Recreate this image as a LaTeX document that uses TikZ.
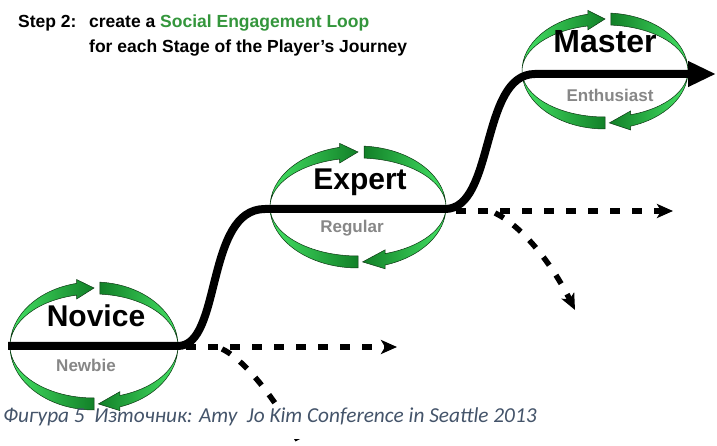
\documentclass[tikz,border=0pt]{standalone}
\usepackage{fontspec}
\setmainfont{Liberation Sans}
\newfontfamily\capfont{Carlito}
\usetikzlibrary{arrows.meta}

\definecolor{gdark}{RGB}{18,128,40}
\definecolor{glight}{RGB}{68,226,100}
\definecolor{gedge}{RGB}{12,55,18}
\definecolor{titlegreen}{RGB}{52,150,60}
\definecolor{subgray}{RGB}{135,135,135}
\definecolor{capblue}{RGB}{68,84,106}

\tikzset{
  band/.style={draw=gedge, line width=0.5pt},
  journey/.style={line width=8pt, black, line cap=butt,
    -{Triangle[length=28pt,width=24pt]}},
  branch/.style={line width=5.5pt, black, dash pattern=on 10pt off 12pt,
    -{Stealth[length=16pt,width=14pt,inset=4pt]}},
  stagename/.style={font=\fontsize{30}{30}\selectfont\bfseries, inner sep=0pt, anchor=base},
  stagesub/.style={font=\fontsize{17}{17}\selectfont\bfseries, text=subgray, inner sep=0pt, anchor=base},
  titletext/.style={font=\fontsize{17.5}{18}\selectfont\bfseries, inner sep=0pt, anchor=base west},
}

% a twisted ribbon loop: #1 centre, #2 x radius, #3 y radius
\newcommand{\engloop}[3]{%
  \begin{scope}[shift={#1}]
    \pgfmathsetmacro\lpin{#3-12}
    \pgfmathsetmacro\lpout{#3+4}
    \pgfmathsetmacro\lpfin{#3-16}
    \pgfmathsetmacro\lpmid{#3-6}
    % upper left, head at the top pointing right
    \path[band, left color=glight, right color=gdark]
      (180:#2pt and #3pt) arc[start angle=180, end angle=102, x radius=#2pt, y radius=#3pt]
      -- (102:#2pt and \lpout pt) -- (90:#2pt and \lpmid pt) -- (102:#2pt and \lpfin pt)
      -- (102:#2pt and \lpin pt) arc[start angle=102, end angle=180, x radius=#2pt, y radius=\lpin pt]
      -- cycle;
    % upper right
    \path[band, left color=gdark, right color=glight]
      (86:#2pt and #3pt) arc[start angle=86, end angle=0, x radius=#2pt, y radius=#3pt]
      arc[start angle=0, end angle=86, x radius=#2pt, y radius=\lpin pt] -- cycle;
    % lower right, head at the bottom pointing left
    \path[band, left color=gdark, right color=glight]
      (0:#2pt and #3pt) arc[start angle=0, end angle=-72, x radius=#2pt, y radius=#3pt]
      -- (-72:#2pt and \lpout pt) -- (-87:#2pt and \lpmid pt) -- (-72:#2pt and \lpfin pt)
      -- (-72:#2pt and \lpin pt) arc[start angle=-72, end angle=0, x radius=#2pt, y radius=\lpin pt]
      -- cycle;
    % lower left
    \path[band, left color=glight, right color=gdark]
      (180:#2pt and #3pt) arc[start angle=180, end angle=270, x radius=#2pt, y radius=#3pt]
      -- (270:#2pt and \lpin pt) arc[start angle=270, end angle=180, x radius=#2pt, y radius=\lpin pt]
      -- cycle;
  \end{scope}}

\begin{document}
\begin{tikzpicture}[x=1pt, y=1pt]
  \useasboundingbox (0,0) rectangle (717,446);
  \clip (0,0) rectangle (717,446);
  \fill[white] (0,0) rectangle (717,446);

  % loop centres
  \coordinate (novice) at (94,100);
  \coordinate (expert) at (358,239);
  \coordinate (master) at (605,375);

  % points along the journey line
  \coordinate (start)  at (8,100);
  \coordinate (novR)   at (178,100);
  \coordinate (expL)   at (265,237);
  \coordinate (expR)   at (445,237);
  \coordinate (masL)   at (535,372);
  \coordinate (finish) at (716,372);

  % branch end points
  \coordinate (novA) at (186,99);
  \coordinate (novB) at (397,99);
  \coordinate (novC) at (222,97);
  \coordinate (novD) at (312,-24);
  \coordinate (expA) at (456,235);
  \coordinate (expB) at (673,235);
  \coordinate (expC) at (495,233);
  \coordinate (expD) at (575,136);

  \engloop{(novice)}{84}{64}
  \engloop{(expert)}{88}{61}
  \engloop{(master)}{83}{58}

  % dashed branches
  \draw[branch] (novA) -- (novB);
  \draw[branch] (novC) .. controls (250,84) and (290,26) .. (novD);
  \draw[branch] (expA) -- (expB);
  \draw[branch] (expC) .. controls (520,221) and (550,186) .. (expD);

  % the player's journey
  \draw[journey] (start) -- (novR) .. controls (222,100) and (205,237) .. (expL)
    -- (expR) .. controls (495,237) and (480,372) .. (masL) -- (finish);

  % stage labels
  \node[stagename] (tNovice) at (96,119) {Novice};
  \node[stagesub]  (tNewbie) at (86,74) {Newbie};
  \node[stagename] (tExpert) at (360,256) {Expert};
  \node[stagesub]  (tRegular) at (352,213) {Regular};
  \node[stagename, font=\fontsize{32}{32}\selectfont\bfseries] (tMaster) at (605,393) {Master};
  \node[stagesub]  (tEnth) at (610,344) {Enthusiast};

  % heading
  \node[titletext] (step) at (18,418) {Step 2:};
  \node[titletext] (head1) at (89,418) {create a \textcolor{titlegreen}{Social Engagement Loop}};
  \node[titletext] (head2) at (89,393) {for each Stage of the Player’s Journey};

  % caption
  \node[anchor=base west, fill=white, inner xsep=2pt, inner ysep=0pt,
        text height=11pt, text depth=16pt, text=capblue,
        font=\capfont\itshape\fontsize{21.3}{22}\selectfont] (caption) at (1,23)
    {Фигура 5\ \ Източник: Amy\ \ Jo Kim Conference in Seattle 2013};
\end{tikzpicture}
\end{document}
